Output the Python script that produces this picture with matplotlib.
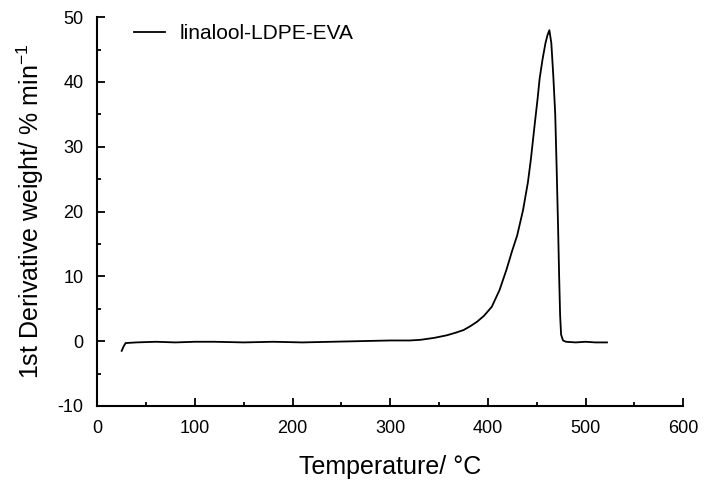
import numpy as np
import matplotlib.pyplot as plt
from matplotlib.ticker import MultipleLocator

plt.rcParams['font.family'] = ['Liberation Sans', 'DejaVu Sans']
plt.rcParams['axes.unicode_minus'] = False

# Temperature (°C) and derivative weight (%/min)
temp = [25, 27, 29, 40, 60, 80, 100, 120, 150, 180, 210, 240, 270, 300, 320, 331,
        345, 358, 367, 375, 382, 389, 396, 404, 412, 419, 425, 430, 436, 441, 444,
        448, 451, 453, 456, 459, 461, 463, 465, 467, 469, 470.5, 472, 473, 474,
        475, 477, 480, 490, 500, 510, 522]
dtg = [-1.5, -0.8, -0.3, -0.2, -0.1, -0.2, -0.1, -0.1, -0.2, -0.1, -0.2, -0.1, 0.0, 0.1, 0.1, 0.2,
       0.5, 0.9, 1.3, 1.7, 2.3, 3.0, 3.9, 5.3, 7.9, 11.0, 14.0, 16.3, 20.2, 24.5, 28.0,
       33.5, 37.5, 40.5, 43.5, 46.0, 47.2, 48.0, 46.0, 41.0, 35.0, 26.4, 17.0, 10.0, 4.0,
       1.0, 0.1, -0.1, -0.2, -0.1, -0.2, -0.2]

fig, ax = plt.subplots(figsize=(7.05, 4.92), dpi=100)
fig.subplots_adjust(left=0.138, right=0.969, top=0.965, bottom=0.175)

ax.plot(temp, dtg, color='black', linewidth=1.3, label='linalool-LDPE-EVA')

ax.set_xlim(0, 600)
ax.set_ylim(-10, 50)
ax.xaxis.set_major_locator(MultipleLocator(100))
ax.xaxis.set_minor_locator(MultipleLocator(50))
ax.yaxis.set_major_locator(MultipleLocator(10))
ax.yaxis.set_minor_locator(MultipleLocator(5))

for s in ['top', 'right']:
    ax.spines[s].set_visible(False)
for s in ['left', 'bottom']:
    ax.spines[s].set_linewidth(1.5)

ax.tick_params(which='major', direction='in', length=6, width=1.3, labelsize=13, pad=10)
ax.tick_params(which='minor', direction='in', length=3, width=1.3)

ax.set_xlabel('Temperature/ °C', fontsize=18, labelpad=13)
ax.set_ylabel('1st Derivative weight/ % min$^{\\mathregular{-1}}$', fontsize=18, labelpad=8)

ax.legend(loc='upper left', frameon=False, fontsize=15, handlelength=1.5,
          handletextpad=0.7, bbox_to_anchor=(0.03, 1.03))

plt.savefig('out.png')
